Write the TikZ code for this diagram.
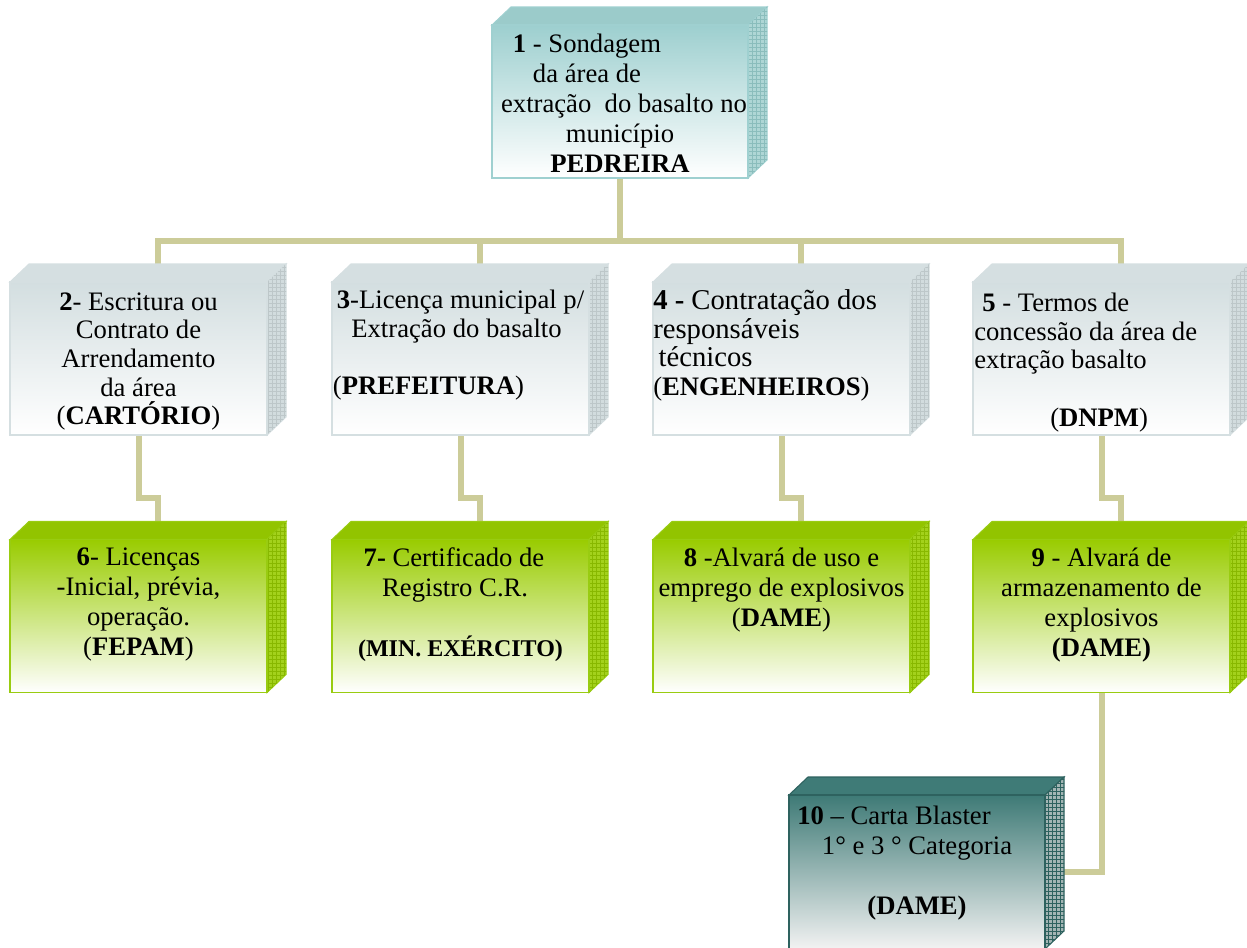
\documentclass[tikz,border=0pt]{standalone}
\usepackage{fontspec}
\setmainfont{Liberation Serif}
\usetikzlibrary{patterns,calc}
\definecolor{connC}{HTML}{CCCC99}
% box 1 (teal)
\definecolor{aFront}{HTML}{9DCFCF}
\definecolor{aBorder}{HTML}{9FD0D0}
\definecolor{aTop}{HTML}{9BCBCA}
\definecolor{aSide}{HTML}{AED6D5}
\definecolor{aGrid}{HTML}{8ABDBC}
% row 2 (grey blue)
\definecolor{gFront}{HTML}{D3DEE0}
\definecolor{gBorder}{HTML}{D5DFE1}
\definecolor{gTop}{HTML}{D5DFE1}
\definecolor{gSide}{HTML}{D2DCDE}
\definecolor{gGrid}{HTML}{BDC7C9}
% row 3 (green)
\definecolor{vFront}{HTML}{99CC00}
\definecolor{vBorder}{HTML}{99CC11}
\definecolor{vTop}{HTML}{92C400}
\definecolor{vSide}{HTML}{A3D11C}
\definecolor{vGrid}{HTML}{88B800}
% box 10 (dark teal)
\definecolor{dFront}{HTML}{3E7A76}
\definecolor{dBorder}{HTML}{2E625F}
\definecolor{dTop}{HTML}{3F7B77}
\definecolor{dSide}{HTML}{A3B5B4}
\definecolor{dGrid}{HTML}{2E625F}
\newcommand\shl[2]{\hbox{\kern#1\relax #2}}
\newcommand\cubefaces[5]{%
  \path[draw=#2, line width=0.8pt, fill=#3]
    (#1.north west) -- ($(#1.north west)+(19,-18)$) -- ($(#1.north east)+(19,-18)$) -- (#1.north east) -- cycle;
  \path[draw=#2, line width=0.8pt, fill=#4, postaction={pattern=grid, pattern color=#5}]
    (#1.north east) -- ($(#1.north east)+(19,-18)$) -- ($(#1.south east)+(19,-18)$) -- (#1.south east) -- cycle;
}
\begin{document}
\begin{tikzpicture}[x=0.75pt,y=-0.75pt,
  conn/.style={draw=connC, line width=4.5pt, line join=miter},
  front/.style={draw, line width=1.1pt, inner sep=0pt, outer sep=0pt,
    minimum width=192.75pt, minimum height=114.75pt},
  fa/.style={front, draw=aBorder, top color=aFront, bottom color=white, minimum width=192pt},
  fg/.style={front, draw=gBorder, top color=gFront, bottom color=white},
  fv/.style={front, draw=vBorder, top color=vFront, bottom color=white},
  fd/.style={front, draw=dBorder, top color=dFront, bottom color=white!95!black, minimum width=192pt, minimum height=115.5pt},
  txt/.style={inner sep=0pt, align=center, text=black, font=\fontsize{20}{22.5}\selectfont},
  txtb/.style={txt, font=\fontsize{20}{21.5}\selectfont},
  txtl/.style={txtb, align=left, anchor=west}]
\clip (0,0) rectangle (1247,947);
\fill[white] (0,0) rectangle (1247,947);

% front faces
\node[fa] (b1) at (620,101.5) {};
\node[fg] (b2) at (138.5,358.5) {};
\node[fg] (b3) at (460.5,358.5) {};
\node[fg] (b4) at (781.5,358.5) {};
\node[fg] (b5) at (1101.5,358.5) {};
\node[fv] (b6) at (138.5,616) {};
\node[fv] (b7) at (460.5,616) {};
\node[fv] (b8) at (781.5,616) {};
\node[fv] (b9) at (1101.5,616) {};
\node[fd] (b10) at (917,872) {};

% connector points
\coordinate (bus) at (0,241);
\coordinate (e1) at (0,498);
\foreach \n in {2,...,9} {\coordinate (b\n t) at ($(b\n.north)+(19,-18)$);}
\coordinate (b10r) at ($(b10.east)+(19,0)$);

% connectors
\draw[conn] (b1.south) -- (b1.south |- bus);
\draw[conn] (b2t) -- (b2t |- bus) -- (b5t |- bus) -- (b5t);
\draw[conn] (b3t) -- (b3t |- bus);
\draw[conn] (b4t) -- (b4t |- bus);
\draw[conn] (b2.south) -- (b2.south |- e1) -| (b6t);
\draw[conn] (b3.south) -- (b3.south |- e1) -| (b7t);
\draw[conn] (b4.south) -- (b4.south |- e1) -| (b8t);
\draw[conn] (b5.south) -- (b5.south |- e1) -| (b9t);
\draw[conn] (b9.south) |- (b10r);

% 3D faces
\cubefaces{b1}{aBorder}{aTop}{aSide}{aGrid}
\foreach \n in {2,3,4,5} {\cubefaces{b\n}{gBorder}{gTop}{gSide}{gGrid}}
\foreach \n in {6,7,8,9} {\cubefaces{b\n}{vBorder}{vTop}{vSide}{vGrid}}
\cubefaces{b10}{dBorder}{dTop}{dSide}{dGrid}
% redraw front faces on top
\node[fa] at (b1) {};
\foreach \n in {2,3,4,5} {\node[fg] at (b\n) {};}
\foreach \n in {6,7,8,9} {\node[fv] at (b\n) {};}
\node[fd] at (b10) {};

% texts
\node[txt] (t1) at (620,103) {\shl{-49.5pt}{\textbf{1} - Sondagem}\\ \shl{-49.5pt}{da área de}\\ \shl{6pt}{extração\ \ do basalto no}\\ município\\ \textbf{PEDREIRA}};
\node[txtb] (t2) at (138.5,361.5) {\textbf{2}- Escritura ou\\ Contrato de\\ Arrendamento\\ da área\\ (\textbf{CARTÓRIO})};
\node[txtb] (t3) at (460.5,345.5) {\textbf{3}-Licença municipal p/\\ \shl{-6pt}{Extração do basalto}\\ \mbox{}\\ \shl{-48pt}{(\textbf{PREFEITURA})}};
\node[txtl] (t4) at (653,345.5) {{\fontsize{21.5}{21.5}\selectfont\textbf{4 -} Contratação dos}\\ {\fontsize{21.5}{21.5}\selectfont responsáveis}\\ {\fontsize{21.5}{21.5}\selectfont\kern4pt técnicos}\\ (\textbf{ENGENHEIROS})};
\node[txtl] (t5) at (974,362.5) {\kern6pt\textbf{5} - Termos de\\ concessão da área de\\ extração basalto\\ \mbox{}\\ \kern57pt(\textbf{DNPM})};
\node[txt] (t6) at (138.5,605) {\textbf{6}- Licenças\\ -Inicial, prévia,\\ operação.\\ (\textbf{FEPAM})};
\node[txt] (t7) at (460.5,605) {\shl{-9.75pt}{\textbf{7-} Certificado de}\\ \shl{-8pt}{Registro C.R.}\\ \mbox{}\\ {\fontsize{18}{22.5}\selectfont\textbf{(MIN. EXÉRCITO)}}};
\node[txt] (t8) at (781.5,590) {\textbf{8} -Alvará de uso e\\ emprego de explosivos\\ (\textbf{DAME})};
\node[txt] (t9) at (1101.5,605) {\textbf{9} - Alvará de\\ armazenamento de\\ explosivos\\ \textbf{(DAME)}};
\node[txt] (t10) at (917,863) {\shl{-34.5pt}{\textbf{10} – Carta Blaster}\\ 1° e 3 ° Categoria\\ \mbox{}\\ \textbf{(DAME)}};
\end{tikzpicture}
\end{document}
